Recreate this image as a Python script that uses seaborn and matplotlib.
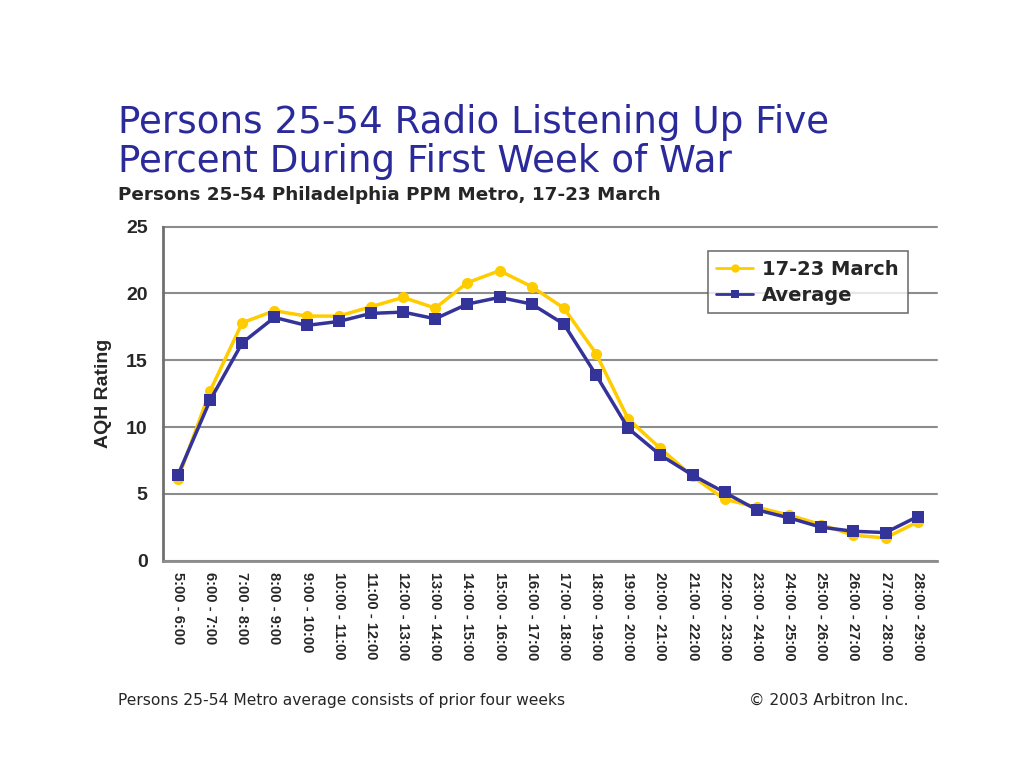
import pandas as pd
import numpy as np
import matplotlib.pyplot as plt
import seaborn as sns

# data
hours = ['5:00 - 6:00', '6:00 - 7:00', '7:00 - 8:00', '8:00 - 9:00', '9:00 - 10:00',
         '10:00 - 11:00', '11:00 - 12:00', '12:00 - 13:00', '13:00 - 14:00', '14:00 - 15:00',
         '15:00 - 16:00', '16:00 - 17:00', '17:00 - 18:00', '18:00 - 19:00', '19:00 - 20:00',
         '20:00 - 21:00', '21:00 - 22:00', '22:00 - 23:00', '23:00 - 24:00', '24:00 - 25:00',
         '25:00 - 26:00', '26:00 - 27:00', '27:00 - 28:00', '28:00 - 29:00']

march = [6.1, 12.7, 17.8, 18.7, 18.3, 18.3, 19.0, 19.7, 18.9, 20.8, 21.7, 20.5,
         18.9, 15.5, 10.6, 8.4, 6.3, 4.6, 4.0, 3.4, 2.7, 1.9, 1.7, 2.9]
average = [6.4, 12.0, 16.3, 18.2, 17.6, 17.9, 18.5, 18.6, 18.1, 19.2, 19.7, 19.2,
           17.7, 13.9, 9.9, 7.9, 6.4, 5.1, 3.8, 3.2, 2.5, 2.2, 2.1, 3.3]

series_names = ['17-23 March', 'Average']

df = pd.DataFrame({
	'pos': list(range(len(hours))) * 2,
	'rating': march + average,
	'series': [series_names[0]] * len(hours) + [series_names[1]] * len(hours),
})

sns.set_style('white')
plt.rcParams['font.family'] = ['Liberation Sans', 'DejaVu Sans']

yellow = '#FFCC00'
blue = '#333399'
wide = ['DejaVu Sans']

fig = plt.figure(figsize=(10.24, 7.68), dpi=100)
ax = fig.add_axes([0.159, 0.270, 0.756, 0.435])

sns.lineplot(data=df, x='pos', y='rating', hue='series', style='series',
	palette=[yellow, blue], markers=['o', 's'], dashes=False,
	linewidth=2.5, markersize=8, markeredgewidth=0, ax=ax)

ax.set_xlim(-0.47, 23.6)
ax.set_ylim(0, 25)
ax.set_yticks([0, 5, 10, 15, 20, 25])
ax.set_xticks(range(len(hours)))
ax.set_xticklabels(hours, rotation=-90, fontsize=10.5, fontweight='bold', va='top')
ax.tick_params(axis='y', labelsize=14, length=5, direction='out', color='#808080', pad=6)
ax.tick_params(axis='x', length=0, pad=8)
for lbl in ax.get_yticklabels():
	lbl.set_fontweight('bold')

ax.grid(axis='y', color='#8c8c8c', linewidth=1.5)
for gl in ax.get_ygridlines():
	gl.set_clip_on(False)
ax.set_axisbelow(True)
for s in ['top', 'right']:
	ax.spines[s].set_visible(False)
ax.spines['left'].set_color('#707070')
ax.spines['left'].set_linewidth(2)
ax.spines['bottom'].set_color('#8c8c8c')
ax.spines['bottom'].set_linewidth(2)

ax.set_xlabel('')
ax.set_ylabel('AQH Rating', fontsize=14, fontweight='bold', labelpad=10)

leg = ax.legend(loc='upper right', bbox_to_anchor=(0.962, 0.927),
	prop={'family': wide, 'weight': 'bold', 'size': 14},
	frameon=True, fancybox=False, edgecolor='#505050', handlelength=1.9,
	handletextpad=0.45, borderpad=0.45, labelspacing=0.35, borderaxespad=0)
leg.get_frame().set_linewidth(1.2)
for h in leg.legend_handles:
	h.set_linewidth(2)
	h.set_markersize(6)

fig.text(0.115, 0.815, 'Persons 25-54 Radio Listening Up Five\nPercent During First Week of War',
	fontsize=26.8, family=wide, color='#2B2A9A', ha='left', va='center', linespacing=1.08)
fig.text(0.115, 0.746, 'Persons 25-54 Philadelphia PPM Metro, 17-23 March',
	fontsize=13.2, family=wide, fontweight='bold', ha='left', va='center')
fig.text(0.115, 0.088, 'Persons 25-54 Metro average consists of prior four weeks',
	fontsize=11.2, family=wide, ha='left', va='center')
fig.text(0.887, 0.088, '\u00a9 2003 Arbitron Inc.',
	fontsize=11.2, family=wide, ha='right', va='center')

plt.savefig('out.png', dpi=100)
